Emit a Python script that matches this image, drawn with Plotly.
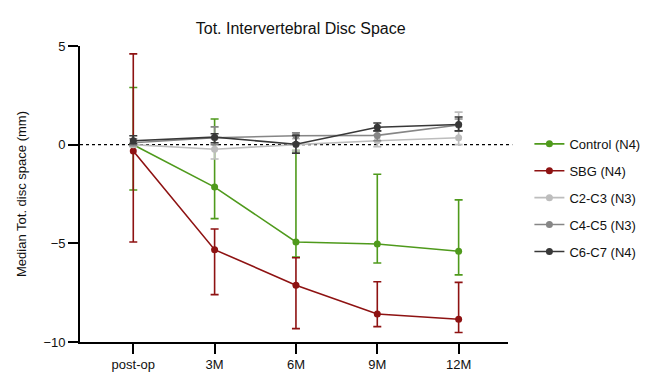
import plotly.graph_objects as go

categories = ["post-op", "3M", "6M", "9M", "12M"]

series_names = ["Control (N4)", "SBG (N4)", "C2-C3 (N3)", "C4-C5 (N3)", "C6-C7 (N4)"]

control_median = [0.0, -2.15, -4.93, -5.03, -5.4]
control_upper = [2.9, 1.3, -0.3, -1.5, -2.8]
control_lower = [-2.3, -3.75, -5.7, -6.0, -6.6]

sbg_median = [-0.32, -5.32, -7.12, -8.58, -8.85]
sbg_upper = [4.6, -4.27, -5.73, -6.95, -6.98]
sbg_lower = [-4.93, -7.6, -9.32, -9.22, -9.52]

c23_median = [0.0, -0.23, 0.0, 0.2, 0.35]
c23_upper = [0.1, 0.3, 0.3, 0.5, 1.65]
c23_lower = [-0.1, -0.73, -0.3, -0.1, 0.0]

c45_median = [0.1, 0.35, 0.45, 0.47, 1.0]
c45_upper = [0.3, 0.9, 0.6, 0.7, 1.3]
c45_lower = [-0.05, 0.0, 0.1, 0.2, 0.7]

c67_median = [0.2, 0.38, 0.02, 0.88, 1.02]
c67_upper = [0.45, 0.55, 0.47, 1.1, 1.4]
c67_lower = [0.05, 0.1, -0.43, 0.7, 0.7]

colors = ["#4f9a1c", "#8e1212", "#bdbdbd", "#868686", "#383838"]

y_ticks = [-10, -5, 0, 5]

data = [
    (control_median, control_upper, control_lower),
    (sbg_median, sbg_upper, sbg_lower),
    (c23_median, c23_upper, c23_lower),
    (c45_median, c45_upper, c45_lower),
    (c67_median, c67_upper, c67_lower),
]

FONT = "Liberation Sans, Arial, sans-serif"

fig = go.Figure()
for i, (name, (med, up, lo)) in enumerate(zip(series_names, data)):
    fig.add_trace(go.Scatter(
        x=categories, y=med, name=name, mode="lines+markers",
        legendgroup=f"g{i}",
        line=dict(color=colors[i], width=1.6),
        marker=dict(color=colors[i], size=7),
        error_y=dict(type="data", symmetric=False,
                     array=[u - m for u, m in zip(up, med)],
                     arrayminus=[m - l for m, l in zip(med, lo)],
                     color=colors[i], thickness=1.6, width=4),
    ))

fig.add_shape(type="line", xref="paper", yref="y", x0=0, x1=1.01, y0=0, y1=0,
              line=dict(color="black", width=1.3, dash="dot"), layer="below")

fig.update_layout(
    width=649, height=376,
    margin=dict(l=68, r=139, t=38, b=38),
    paper_bgcolor="white", plot_bgcolor="white",
    font=dict(family=FONT, size=13, color="#111"),
    title=dict(text="Tot. Intervertebral Disc Space", x=0.451, xanchor="center",
               y=0.945, yanchor="middle", font=dict(size=16, color="#111")),
    showlegend=True,
    legend=dict(x=1.05, y=0.72, xanchor="left", yanchor="top",
                font=dict(size=13, color="#111"), tracegroupgap=7,
                bgcolor="rgba(0,0,0,0)"),
    xaxis=dict(type="category", range=[-0.655, 4.607], showline=True,
               linecolor="black", linewidth=1.6, ticks="outside", ticklen=10,
               tickwidth=1.6, tickcolor="black", showgrid=False, zeroline=False,
               tickfont=dict(size=13)),
    yaxis=dict(range=[-10, 5], tickvals=y_ticks, showline=True,
               linecolor="black", linewidth=1.6, ticks="outside", ticklen=10,
               tickwidth=1.6, tickcolor="black", showgrid=False, zeroline=False,
               tickfont=dict(size=13),
               title=dict(text="Median Tot. disc space (mm)", font=dict(size=13),
                          standoff=14)),
)

fig.write_html("out.html")
